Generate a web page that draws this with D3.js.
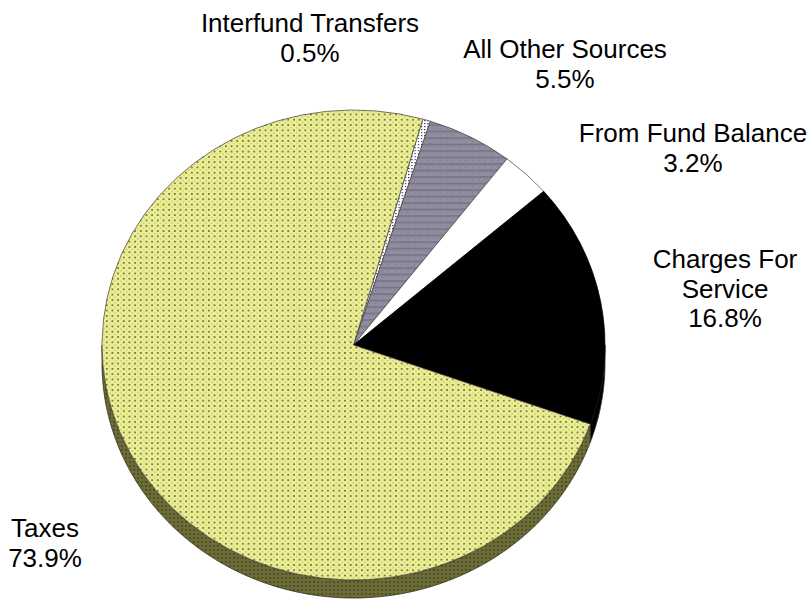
<!DOCTYPE html>
<html>
<head>
<meta charset="utf-8">
<script src="https://cdn.jsdelivr.net/npm/d3@7/dist/d3.min.js"></script>
<style>
  html, body { margin: 0; padding: 0; background: #fff; }
  svg { display: block; }
  text { font-family: "Liberation Sans", Arial, sans-serif; fill: #000; }
</style>
</head>
<body>
<svg id="chart" width="812" height="605"></svg>
<script>
// Revenue sources (percent of total), listed clockwise from the top
const categories = ["Interfund Transfers", "All Other Sources", "From Fund Balance", "Charges For Service", "Taxes"];
const shares = [0.5, 5.5, 3.2, 16.8, 73.9];
const labelLines = [
  ["Interfund Transfers"],
  ["All Other Sources"],
  ["From Fund Balance"],
  ["Charges For", "Service"],
  ["Taxes"]
];

// Layout
const W = 812, H = 605;
const cx = 353.5, cy = 345;     // centre of the top face
const rx = 251.5, ry = 235;     // ellipse radii of the top face
const depth = 18;               // thickness of the tilted disc
const startDeg = 16;            // where the first slice begins (clockwise from 12 o'clock)
const fontSize = 26, lineGap = 29.5;
const labelAnchors = [
  { x: 310, y: 32 },
  { x: 565, y: 58 },
  { x: 693, y: 142 },
  { x: 725, y: 268 },
  { x: 45,  y: 537 }
];

const topFills = ["url(#pInterfund)", "url(#pOther)", "#ffffff", "#000000", "url(#pTaxes)"];
const sideFills = ["#8a8a8a", "#5d586a", "#b8b8b8", "#000000", "url(#pTaxesSide)"];

const svg = d3.select("#chart");
const defs = svg.append("defs");

// Dotted yellow texture for the Taxes top face
const pt = defs.append("pattern").attr("id", "pTaxes")
  .attr("patternUnits", "userSpaceOnUse").attr("width", 5.3).attr("height", 5.3);
pt.append("rect").attr("width", 5.3).attr("height", 5.3).attr("fill", "#ecee92");
pt.append("circle").attr("cx", 2.65).attr("cy", 2.65).attr("r", 0.85).attr("fill", "#4e4e34");
pt.append("circle").attr("cx", 0).attr("cy", 0).attr("r", 1).attr("fill", "#d4d580");
pt.append("circle").attr("cx", 5.3).attr("cy", 0).attr("r", 1).attr("fill", "#d4d580");
pt.append("circle").attr("cx", 0).attr("cy", 5.3).attr("r", 1).attr("fill", "#d4d580");
pt.append("circle").attr("cx", 5.3).attr("cy", 5.3).attr("r", 1).attr("fill", "#d4d580");

// Darker olive texture for the Taxes rim
const ps = defs.append("pattern").attr("id", "pTaxesSide")
  .attr("patternUnits", "userSpaceOnUse").attr("width", 4).attr("height", 4);
ps.append("rect").attr("width", 4).attr("height", 4).attr("fill", "#6c6c36");
ps.append("circle").attr("cx", 2).attr("cy", 2).attr("r", 0.9).attr("fill", "#444422");

// Striped grey-violet texture for All Other Sources
const po = defs.append("pattern").attr("id", "pOther")
  .attr("patternUnits", "userSpaceOnUse").attr("width", 6).attr("height", 6.5);
po.append("rect").attr("width", 6).attr("height", 6.5).attr("fill", "#928ea0");
po.append("rect").attr("y", 0).attr("width", 6).attr("height", 2.2).attr("fill", "#7c778c");
po.append("circle").attr("cx", 3).attr("cy", 4.2).attr("r", 0.6).attr("fill", "#716c82");

// Dashed texture for Interfund Transfers
const pi = defs.append("pattern").attr("id", "pInterfund")
  .attr("patternUnits", "userSpaceOnUse").attr("width", 3).attr("height", 3);
pi.append("rect").attr("width", 3).attr("height", 3).attr("fill", "#ffffff");
pi.append("rect").attr("width", 1.2).attr("height", 1.2).attr("fill", "#3c3c5a");

// Pie layout: angles measured clockwise from 12 o'clock
const a0 = startDeg * Math.PI / 180;
const pie = d3.pie().sort(null).value(d => d).startAngle(a0).endAngle(a0 + 2 * Math.PI);
const arcsData = pie(shares);

// Point on the ellipse rim for angle a
const rimX = a => cx + rx * Math.sin(a);
const rimY = a => cy - ry * Math.cos(a);

// Rim (side wall) of each slice: only the front half (3 to 9 o'clock) is visible
const lineGen = d3.line();
const sideG = svg.append("g");
arcsData.forEach((d, i) => {
  const s = Math.max(d.startAngle, Math.PI / 2);
  const e = Math.min(d.endAngle, 3 * Math.PI / 2);
  if (e <= s) return;
  const steps = Math.max(4, Math.ceil((e - s) / 0.01));
  const angles = d3.range(steps + 1).map(k => s + (e - s) * k / steps);
  const top = angles.map(a => [rimX(a), rimY(a)]);
  const bottom = angles.slice().reverse().map(a => [rimX(a), rimY(a) + depth]);
  sideG.append("path")
    .attr("d", lineGen(top.concat(bottom)) + "Z")
    .attr("fill", sideFills[i])
    .attr("stroke", "#2e2e1a")
    .attr("stroke-width", 0.8)
    .attr("stroke-linejoin", "round");
});

// Top faces: circular arcs stretched horizontally into an ellipse
const arc = d3.arc().innerRadius(0).outerRadius(ry);
const topG = svg.append("g")
  .attr("transform", `translate(${cx},${cy}) scale(${rx / ry},1)`);
topG.selectAll("path.slice")
  .data(arcsData)
  .join("path")
  .attr("class", "slice")
  .attr("d", arc)
  .attr("fill", (d, i) => topFills[i])
  .attr("stroke", (d, i) => i === 3 ? "#000" : "#3e3e3e")
  .attr("stroke-width", 0.7)
  .attr("vector-effect", "non-scaling-stroke")
  .attr("stroke-linejoin", "round");

// Labels: category name(s) followed by the share
const fmt = v => `${v.toFixed(1)}%`;
const labelG = svg.append("g").attr("font-size", fontSize).attr("text-anchor", "middle");
categories.forEach((c, i) => {
  const lines = labelLines[i].concat([fmt(shares[i])]);
  const t = labelG.append("text")
    .attr("x", labelAnchors[i].x)
    .attr("y", labelAnchors[i].y);
  lines.forEach((ln, k) => {
    t.append("tspan")
      .attr("x", labelAnchors[i].x)
      .attr("dy", k === 0 ? 0 : lineGap)
      .text(ln);
  });
});
</script>
</body>
</html>
